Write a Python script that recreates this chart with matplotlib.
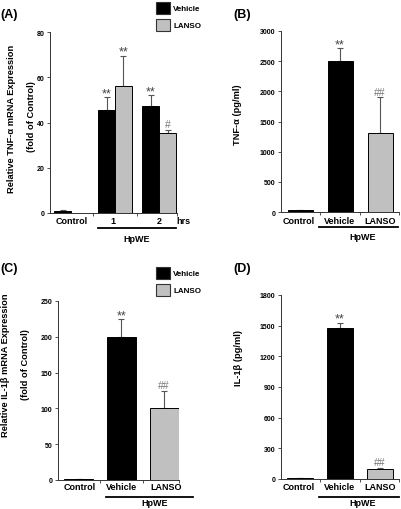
import matplotlib
matplotlib.use("Agg")
import matplotlib.pyplot as plt
from matplotlib.lines import Line2D
from matplotlib.patches import Rectangle

plt.rcParams['font.family'] = ['Liberation Sans', 'DejaVu Sans']

# ---- data ----
# (A) TNF-a mRNA, fold of control
a_groups = ['Control', '1', '2']
a_vehicle = [1.0, 45.5, 47.5]
a_vehicle_err = [0.3, 5.7, 4.5]
a_lanso = [None, 56.0, 35.5]
a_lanso_err = [None, 13.5, 1.3]
a_vehicle_marks = ['', '**', '**']
a_lanso_marks = ['', '**', '#']

# (B) TNF-a protein, pg/ml
b_groups = ['Control', 'Vehicle', 'LANSO']
b_values = [25, 2510, 1310]
b_err = [8, 200, 590]
b_marks = ['', '**', '##']

# (C) IL-1b mRNA, fold of control
c_groups = ['Control', 'Vehicle', 'LANSO']
c_values = [1, 200, 100]
c_err = [0.3, 25, 25]
c_marks = ['', '**', '##']

# (D) IL-1b protein, pg/ml
d_groups = ['Control', 'Vehicle', 'LANSO']
d_values = [10, 1480, 100]
d_err = [4, 50, 8]
d_marks = ['', '**', '##']

W, H = 401, 510
BLACK = '#000000'
GREY = '#c0c0c0'
ERR = '#555555'

fig = plt.figure(figsize=(W / 100, H / 100), dpi=100)


def px_axes(left, top, right, bottom):
    return fig.add_axes([left / W, 1 - bottom / H, (right - left) / W, (bottom - top) / H])


def fig_line(x0, x1, y):
    fig.add_artist(Line2D([x0 / W, x1 / W], [1 - y / H, 1 - y / H],
                          transform=fig.transFigure, color='black', lw=1.3))


def fig_text(x, y, s, **kw):
    fig.text(x / W, 1 - y / H, s, **kw)


def style(ax, ylim, yticks, xlim, bounds):
    ax.set_ylim(*ylim)
    ax.set_xlim(*xlim)
    ax.set_yticks(yticks)
    ax.set_yticklabels([str(t) for t in yticks], fontsize=5, fontweight='bold')
    ax.set_xticks(bounds)
    ax.set_xticklabels([])
    for s in ['top', 'right']:
        ax.spines[s].set_visible(False)
    for s in ['left', 'bottom']:
        ax.spines[s].set_linewidth(0.7)
        ax.spines[s].set_color('#333333')
    ax.tick_params(axis='both', length=2, width=0.6, color='#333333', pad=2)


def mark(ax, x, top, s):
    if not s:
        return
    if s.startswith('*'):
        col, fs, off = '#444444', 9, -1.5
    else:
        col, fs, off = '#777777', 7.5, 0.5
    ax.annotate(s, (x, top), xytext=(0, off), textcoords='offset points',
                ha='center', va='bottom', fontsize=fs, color=col, annotation_clip=False)


def bars3(ax, values, errs, marks, width):
    x = [0, 1, 2]
    colors = [BLACK, BLACK, GREY]
    ax.bar(x, values, width=width, color=colors, edgecolor='black', linewidth=0.7, zorder=2)
    ax.errorbar(x, values, yerr=[[0, 0, 0], errs], fmt='none', ecolor=ERR,
                elinewidth=0.8, capsize=2.5, capthick=0.8, zorder=1)
    for xi, v, e, m in zip(x, values, errs, marks):
        mark(ax, xi, v + e, m)


def cat_labels(ax, labels, positions, y):
    for lab, p in zip(labels, positions):
        fig_text(p, y, lab, ha='center', va='center', fontsize=6.5, fontweight='bold')


# ---- (A) ----
axA = px_axes(50, 33, 177, 214)
wA = 17 / 44
xA = [0, 1, 2]
axA.bar([x - wA / 2 for x in xA], a_vehicle, width=wA, color=BLACK,
        edgecolor='black', linewidth=0.7, zorder=2)
axA.errorbar([x - wA / 2 for x in xA], a_vehicle, yerr=[[0, 0, 0], a_vehicle_err],
             fmt='none', ecolor=ERR, elinewidth=0.8, capsize=2.5, capthick=0.8, zorder=1)
xl = [x + wA / 2 for x in xA[1:]]
axA.bar(xl, a_lanso[1:], width=wA, color=GREY, edgecolor='black', linewidth=0.7, zorder=2)
axA.errorbar(xl, a_lanso[1:], yerr=[[0, 0], a_lanso_err[1:]], fmt='none', ecolor=ERR,
             elinewidth=0.8, capsize=2.5, capthick=0.8, zorder=1)
for i in range(3):
    mark(axA, xA[i] - wA / 2, a_vehicle[i] + a_vehicle_err[i], a_vehicle_marks[i])
    if a_lanso[i] is not None:
        mark(axA, xA[i] + wA / 2, a_lanso[i] + a_lanso_err[i], a_lanso_marks[i])
style(axA, (0, 80), [0, 20, 40, 60, 80], (-21 / 44, 106 / 44), [0.5, 1.5, 106 / 44])
cat_labels(axA, a_groups + ['hrs'], [72, 113, 159, 183], 222)
fig_line(98, 176, 229)
fig_text(137, 239, 'HpWE', ha='center', va='center', fontsize=6.5, fontweight='bold')
fig_text(12, 119, 'Relative TNF-α mRNA Expression', rotation=90, ha='center',
         va='center', fontsize=6.7, fontweight='bold')
fig_text(31.5, 117, '(fold of Control)', rotation=90, ha='center', va='center',
         fontsize=6.7, fontweight='bold')
fig_text(0, 15, '(A)', ha='left', va='center', fontsize=9, fontweight='bold')

# ---- (B) ----
axB = px_axes(281, 32, 399, 213)
bars3(axB, b_values, b_err, b_marks, 25 / 40)
style(axB, (0, 3000), [0, 500, 1000, 1500, 2000, 2500, 3000], (-19 / 40, 99 / 40),
      [0.5, 1.5, 99 / 40])
cat_labels(axB, b_groups, [299, 339, 380], 221)
fig_line(319, 398, 228)
fig_text(363, 238, 'HpWE', ha='center', va='center', fontsize=6.5, fontweight='bold')
fig_text(238, 115, 'TNF-α (pg/ml)', rotation=90, ha='center', va='center',
         fontsize=6.7, fontweight='bold')
fig_text(233, 15, '(B)', ha='left', va='center', fontsize=9, fontweight='bold')

# ---- (C) ----
axC = px_axes(58, 302, 179, 481)
bars3(axC, c_values, c_err, c_marks, 29 / 43)
style(axC, (0, 250), [0, 50, 100, 150, 200, 250], (-21 / 43, 101 / 43),
      [0.5, 1.5, 101 / 43])
cat_labels(axC, c_groups, [80, 122, 166], 488)
fig_line(106, 193, 498)
fig_text(155, 504, 'HpWE', ha='center', va='center', fontsize=6.5, fontweight='bold')
fig_text(5.5, 365, 'Relative IL-1β mRNA Expression', rotation=90, ha='center',
         va='center', fontsize=6.7, fontweight='bold')
fig_text(26, 365, '(fold of Control)', rotation=90, ha='center', va='center',
         fontsize=6.7, fontweight='bold')
fig_text(0, 269, '(C)', ha='left', va='center', fontsize=9, fontweight='bold')

# ---- (D) ----
axD = px_axes(281, 296, 399, 480)
bars3(axD, d_values, d_err, d_marks, 26 / 40)
style(axD, (0, 1800), [0, 300, 600, 900, 1200, 1500, 1800], (-19 / 40, 99 / 40),
      [0.5, 1.5, 99 / 40])
cat_labels(axD, d_groups, [299, 339, 380], 487)
fig_line(319, 399, 498)
fig_text(363, 504, 'HpWE', ha='center', va='center', fontsize=6.5, fontweight='bold')
fig_text(239, 358, 'IL-1β (pg/ml)', rotation=90, ha='center', va='center',
         fontsize=6.7, fontweight='bold')
fig_text(233, 269, '(D)', ha='left', va='center', fontsize=9, fontweight='bold')

# ---- legends (boxes + text) ----
for top in (3, 268):
    for k, (name, col) in enumerate([('Vehicle', BLACK), ('LANSO', GREY)]):
        y0 = top + k * 17
        fig.add_artist(Rectangle((156 / W, 1 - (y0 + 12) / H), 14 / W, 12 / H,
                                 transform=fig.transFigure, facecolor=col,
                                 edgecolor='#333333', linewidth=0.8))
        fig_text(173, y0 + 6.5, name, ha='left', va='center', fontsize=5.8,
                 fontweight='bold')

fig.savefig('out.png', dpi=100)
